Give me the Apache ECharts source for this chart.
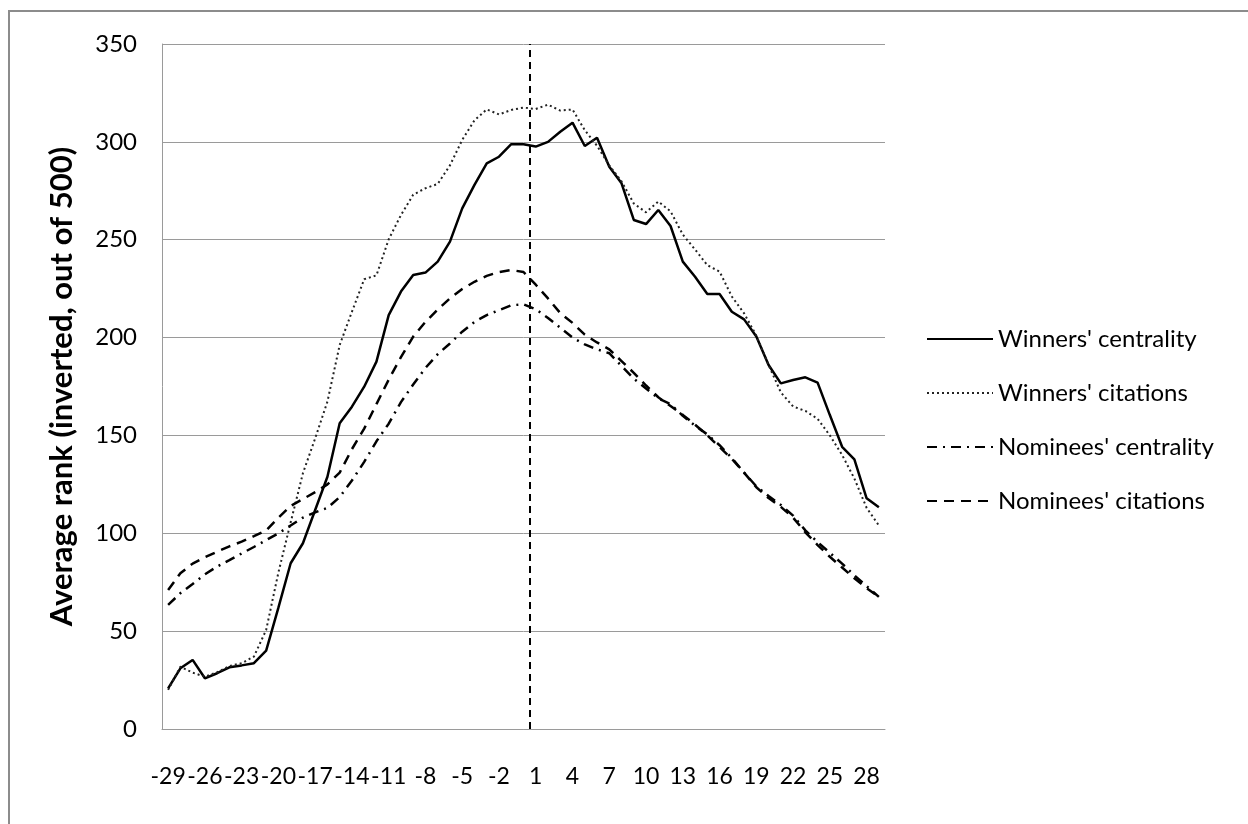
<!DOCTYPE html>
<html>

<head>
    <title>Average rank around the award year</title>
    <meta charset="utf-8">
    <script src="https://cdn.jsdelivr.net/npm/echarts@6/dist/echarts.min.js"></script>
    <style>
        html, body { margin: 0; padding: 0; background: #fff; }
    </style>
</head>

<body>
    <div id="rankChart" style="width: 1248px;height:824px;"></div>
    <script>
        // years relative to the award, -29 .. 29
        var years = [];
        for (var y = -29; y <= 29; y++) years.push(String(y));

        var yTicks = { min: 0, max: 350, step: 50 };
        var eventBoundary = 0.5; // between year 0 and year 1

        var winnersCentrality = [20.8, 31, 35.3, 25.9, 28.5, 31.5, 32.5, 33.6, 40, 62, 84.7, 94.9,
            111.9, 128.9, 156.2, 164.7, 174.9, 187.7, 211.5, 223.5, 232,
            233.2, 238.8, 249, 266, 278, 289, 292.4, 298.8, 298.8, 297.6, 300, 305.2, 309.8, 297.9, 302.1,
            287.3, 278.8, 260.1, 258, 265.2, 257, 238.8, 231.1, 222.3, 222.3, 213.2, 209.3,
            200.5, 186, 176.6, 178.3, 179.7, 177, 160.4, 144.2, 137.8, 117.9, 113.3];

        var winnersCitations = [20, 31.8, 28.8, 26.7, 29, 32.2, 33.6, 37, 50.6, 80, 105.6, 130.7,
            148.5, 167.3, 196.2, 213.2, 229.8, 231.8, 250.2, 262.6, 273,
            276.3, 278.5, 288, 301, 311, 316.6, 314, 316.3, 317.5, 316.8, 319, 316, 316.5, 306, 298,
            288, 279.8, 268.5, 264, 269.5, 264.5, 252.6, 245, 237, 233.7, 221, 212.4,
            201, 186, 172, 164.8, 162.5, 158.5, 150, 140, 128, 113, 104];

        var nomineesCentrality = [63.4, 69.4, 74.1, 79, 83, 86.3, 89.7, 93, 96.5, 100, 104, 108,
            110.7, 113, 118.5, 127, 136.5, 147, 156, 167, 176,
            184.5, 191.5, 197, 203, 208, 211.5, 214, 216.5, 217, 214.5, 210, 205, 200, 196.5, 194,
            192, 185.5, 179, 174, 169, 166, 160, 155, 150.5, 145, 138.5, 131,
            124, 119, 114.5, 109, 101.5, 95.5, 90, 84.5, 78.5, 73, 67.5];

        var nomineesCitations = [71, 79.6, 84.5, 87.8, 90.6, 93.3, 95.7, 98.5, 101.5, 108, 114, 117.5,
            121, 125, 131, 143, 153.5, 166, 178.5, 190, 200.5,
            208, 214.3, 220, 224.8, 228.5, 231.5, 233.5, 234.5, 233.5, 227, 220, 212.5, 207.5, 201.5, 197.5,
            194, 188, 182, 175.5, 169.5, 165, 160.5, 155.5, 150, 144, 138, 131,
            123.5, 118, 113.5, 108, 100.5, 94, 88, 82.5, 77, 72, 67.5];

        var seriesNames = ["Winners' centrality", "Winners' citations", "Nominees' centrality", "Nominees' citations"];

        var font = 'Lato, "Open Sans", sans-serif';

        var chart = echarts.init(document.getElementById('rankChart'));
        var option = {
            backgroundColor: '#fff',
            animation: false,
            textStyle: { fontFamily: font, color: '#000' },
            graphic: [{
                type: 'rect',
                shape: { x: 9, y: 11, width: 1400, height: 1000 },
                style: { fill: 'none', stroke: '#8c8c8c', lineWidth: 2 },
                silent: true
            }],
            grid: { left: 162, top: 44, right: 363, bottom: 95 },
            legend: {
                data: seriesNames,
                orient: 'vertical',
                left: 921,
                top: 322,
                itemWidth: 66,
                itemHeight: 14,
                itemGap: 30,
                itemStyle: { opacity: 0 },
                textStyle: { fontFamily: font, fontSize: 24, color: '#000' }
            },
            xAxis: [{
                type: 'category',
                data: years,
                boundaryGap: true,
                axisLine: { lineStyle: { color: '#9a9a9a', width: 1 } },
                axisTick: { show: false },
                axisLabel: {
                    interval: 2,
                    margin: 36,
                    fontSize: 23,
                    color: '#000',
                    fontFamily: font
                }
            }, {
                type: 'value',
                show: false,
                min: -29.5,
                max: 29.5
            }],
            yAxis: {
                type: 'value',
                min: yTicks.min,
                max: yTicks.max,
                interval: yTicks.step,
                name: 'Average rank (inverted, out of 500)',
                nameLocation: 'middle',
                nameGap: 85,
                nameTextStyle: { fontSize: 31, fontWeight: 'bold', color: '#000', fontFamily: font },
                axisLine: { show: true, onZero: false, lineStyle: { color: '#9a9a9a', width: 1 } },
                axisTick: { show: false },
                axisLabel: { margin: 25, fontSize: 24, color: '#000', fontFamily: font },
                splitLine: { lineStyle: { color: '#9a9a9a', width: 1 } }
            },
            series: [
                {
                    name: seriesNames[0],
                    type: 'line',
                    data: winnersCentrality,
                    symbol: 'none',
                    lineStyle: { color: '#000', width: 2.5, type: 'solid' },
                    itemStyle: { color: '#000' }
                },
                {
                    name: seriesNames[1],
                    type: 'line',
                    data: winnersCitations,
                    symbol: 'none',
                    lineStyle: { color: '#222', width: 2, type: [2, 3] },
                    itemStyle: { color: '#222' }
                },
                {
                    name: seriesNames[2],
                    type: 'line',
                    data: nomineesCentrality,
                    symbol: 'none',
                    lineStyle: { color: '#000', width: 2.5, type: [10, 6, 2, 6] },
                    itemStyle: { color: '#000' }
                },
                {
                    name: seriesNames[3],
                    type: 'line',
                    data: nomineesCitations,
                    symbol: 'none',
                    lineStyle: { color: '#000', width: 2.5, type: [10, 7] },
                    itemStyle: { color: '#000' }
                },
                {
                    name: 'award',
                    type: 'line',
                    xAxisIndex: 1,
                    data: [],
                    markLine: {
                        silent: true,
                        symbol: 'none',
                        label: { show: false },
                        lineStyle: { color: '#000', width: 2, type: [7, 5] },
                        data: [{ xAxis: eventBoundary }]
                    }
                }
            ]
        };
        chart.setOption(option);
    </script>
</body>

</html>
